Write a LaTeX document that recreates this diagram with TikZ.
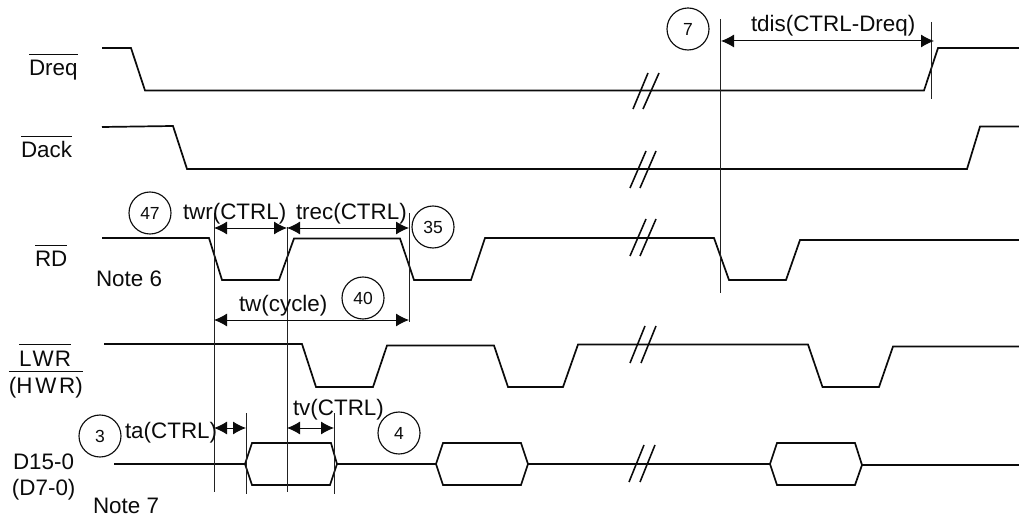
\documentclass[tikz,border=0pt]{standalone}
\usepackage{fontspec}
\setmainfont{Liberation Sans}
\usepackage{xcolor}
\usetikzlibrary{arrows.meta, positioning}
\definecolor{ink}{HTML}{0B0B0B}
\definecolor{inkMute}{HTML}{222222}
\newcommand{\barred}[1]{$\overline{\mbox{\rule{0pt}{20.5pt}#1}}$}

\begin{document}
\begin{tikzpicture}[x=1pt, y=-1pt, font=\fontsize{22.4pt}{24pt}\selectfont, color=ink]
    \tikzset{
      sig/.style={line width=0.6mm, color=ink, line join=miter},
      brk/.style={line width=0.55mm, color=ink},
      tick/.style={line width=0.3mm, color=inkMute},
      dim/.style={{Latex[length=13pt, width=13pt]}-{Latex[length=13pt, width=13pt]}, line width=0.35mm, color=ink},
      lab/.style={anchor=base west, inner sep=0pt, outer sep=0pt},
      num/.style={circle, draw=ink, line width=0.4mm, minimum size=42pt, inner sep=0pt,
                  font=\fontsize{17.5pt}{19pt}\selectfont}
    }
    \useasboundingbox (0,0) rectangle (1019,518);
    % signal names
    \node[lab] (dreq) at (29,76) {\barred{Dreq}};
    \node[lab] (dack) at (21,158) {\barred{Dack}};
    \node[lab] (rd) at (35,267) {\barred{RD}};
    \node[lab] (lwr) at (19,366) {\barred{L\kern1.2pt W\kern1.2pt R}};
    \node[lab] (hwr) at (9,393) {\barred{(H\kern2.7pt W\kern2.7pt R)}};
    \node[lab] (dhi) at (13,469) {D15-0};
    \node[lab] (dlo) at (12,495) {(D7-0)};
    \node[lab] (n6) at (96,287) {Note 6};
    \node[lab] (n7) at (93,513) {Note 7};
    % waveforms
    \draw[sig] (102,48) -- (131,48) -- (145,90.5) -- (924,90.5) -- (938,48) -- (1019,48);
    \draw[sig] (102,127) -- (173,126) -- (187,169) -- (967,169) -- (980,126.5) -- (1019,126.5);
    \draw[sig] (102,238) -- (209,238) -- (222,280) -- (279,280) -- (294,238.5) -- (400,238.5)
      -- (414,280) -- (471,280) -- (485,238) -- (714,238) -- (729,280) -- (786,280)
      -- (800,240) -- (1019,240);
    \draw[sig] (104,344) -- (302,344) -- (316,387) -- (373,387) -- (387,345.5) -- (494,345.5)
      -- (508,387) -- (563,387) -- (578,344.5) -- (808,344.5) -- (822.5,387) -- (879,387)
      -- (893,346.5) -- (1019,346.5);
    \draw[sig] (114,464) -- (245,464) -- (252,443) -- (331,443) -- (337,464) -- (330,485)
      -- (252,485) -- (245,464);
    \draw[sig] (337,464) -- (436,464) -- (443,443) -- (521,443) -- (528,464) -- (521,485)
      -- (443,485) -- (436,464);
    \draw[sig] (528,464) -- (770,464) -- (777,443) -- (855,443) -- (862,465) -- (855,485)
      -- (777,485) -- (770,464);
    \draw[sig] (862,465) -- (1019,465);
    % breaks
    \draw[brk] (633,109) -- (648,73);
    \draw[brk] (643,109) -- (659,73);
    \draw[brk] (630,188) -- (646,151);
    \draw[brk] (640,188) -- (656,151);
    \draw[brk] (630,256) -- (646,219);
    \draw[brk] (640,256) -- (656,219);
    \draw[brk] (630,363) -- (645,326);
    \draw[brk] (641,363) -- (656,326);
    \draw[brk] (629,482) -- (644,445);
    \draw[brk] (640,482) -- (655,445);
    % reference lines
    \coordinate (a) at (214,213);
    \coordinate (b) at (287,227);
    \coordinate (c) at (409,213);
    \coordinate (d) at (246,413);
    \coordinate (e) at (334,413);
    \coordinate (f) at (720,19);
    \coordinate (g) at (931,22);
    \draw[tick] (a) -- (214,492);
    \draw[tick] (b) -- (287,492);
    \draw[tick] (c) -- (409,322);
    \draw[tick] (d) -- (246,494);
    \draw[tick] (e) -- (334,494);
    \draw[tick] (f) -- (720,293);
    \draw[tick] (g) -- (931,99);
    % timings
    \draw[dim] (a |- 0,228) -- (b |- 0,228);
    \draw[dim] (b |- 0,228) -- (c |- 0,228);
    \draw[dim] (a |- 0,320) -- (c |- 0,320);
    \draw[dim] (a |- 0,428) -- (d |- 0,428);
    \draw[dim] (b |- 0,428) -- (e |- 0,428);
    \draw[dim] (721,41) -- (934,41);
    \node[lab] (twr) at (183,220) {twr(CTRL)};
    \node[lab] (trec) at (296,220) {trec(CTRL)};
    \node[lab] (twc) at (239,312) {tw(cycle)};
    \node[lab] (tv) at (293,415) {tv(CTRL)};
    \node[lab] (ta) at (125,438) {ta(CTRL)};
    \node[lab] (tdis) at (751,32) {tdis(CTRL-Dreq)};
    % numbered marks
    \node[num] (c47) at (150,213) {47};
    \node[num] (c35) at (433,227) {35};
    \node[num] (c40) at (363,298) {40};
    \node[num] (c3) at (100,436) {3};
    \node[num] (c4) at (399,433) {4};
    \node[num] (c7) at (688,29) {7};
  \end{tikzpicture}
\end{document}
